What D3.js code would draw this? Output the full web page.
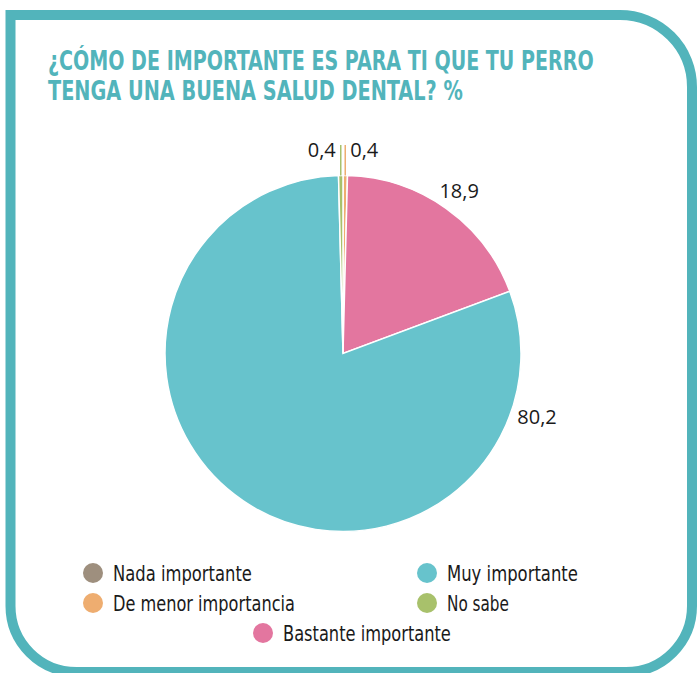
<!DOCTYPE html>
<html>
<head>
<meta charset="utf-8">
<script src="https://cdn.jsdelivr.net/npm/d3@7"></script>
<style>
  body { margin: 0; background: #fff; }
  svg { display: block; }
</style>
</head>
<body>
<div id="chart"></div>
<script>
// data
var categories = ["Nada importante", "De menor importancia", "Bastante importante", "Muy importante", "No sabe"];
var values = [0, 0.4, 18.9, 80.2, 0.4];
var valueLabels = ["", "0,4", "18,9", "80,2", "0,4"];
var colors = ["#9e8f7e", "#eead70", "#e3769f", "#67c3cc", "#a8c16b"];
var titleLines = ["¿CÓMO DE IMPORTANTE ES PARA TI QUE TU PERRO", "TENGA UNA BUENA SALUD DENTAL? %"];

var svgWidth = 697;
var svgHeight = 673;
var teal = "#52b4bb";
var condensed = "'Liberation Sans Narrow', 'DejaVu Sans Condensed', 'Roboto', sans-serif";

var svg = d3.select("#chart")
  .append("svg")
  .attr("width", svgWidth)
  .attr("height", svgHeight);

// squeeze a text horizontally so it spans the width seen in the reference
function fitWidth(sel, x, y, widthFn) {
  sel.each(function(d, i) {
    var natural = this.getComputedTextLength();
    var k = widthFn(d, i) / natural;
    d3.select(this)
      .attr("x", 0)
      .attr("y", 0)
      .attr("transform", `translate(${x(d, i)}, ${y(d, i)}) scale(${k}, 1)`);
  });
}

// frame: square top-left, rounded on the other corners
var L = 10.5, T = 15, R = 692, B = 672;
var frame = d3.path();
frame.moveTo(L, B - 66);
frame.lineTo(L, T);
frame.lineTo(R - 72, T);
frame.arcTo(R, T, R, T + 72, 72);
frame.lineTo(R, B - 66);
frame.arcTo(R, B, R - 66, B, 66);
frame.lineTo(L + 66, B);
frame.arcTo(L, B, L, B - 66, 66);
frame.closePath();

svg.append("path")
  .attr("d", frame.toString())
  .attr("fill", "none")
  .attr("stroke", teal)
  .attr("stroke-width", 10);

// title
var titleWidths = [546, 415];
var titles = svg.selectAll(".title")
  .data(titleLines)
  .enter()
  .append("text")
  .attr("class", "title")
  .attr("font-family", condensed)
  .attr("font-weight", "bold")
  .attr("font-size", "27px")
  .attr("fill", teal)
  .text(d => d);

fitWidth(titles, () => 48, (d, i) => 70 + i * 30, (d, i) => titleWidths[i]);

// pie
var cx = 343, cy = 353.5, radius = 178;
var pieData = categories.map((c, i) => ({ name: c, value: values[i], label: valueLabels[i], color: colors[i] }));

var pie = d3.pie()
  .sort(null)
  .value(d => d.value);

var arc = d3.arc()
  .innerRadius(0)
  .outerRadius(radius);

var arcs = pie(pieData);

var pieGroup = svg.append("g")
  .attr("transform", `translate(${cx}, ${cy})`);

pieGroup.selectAll("path")
  .data(arcs.filter(d => d.data.value > 0))
  .enter()
  .append("path")
  .attr("d", arc)
  .attr("fill", d => d.data.color)
  .attr("stroke", "#fff")
  .attr("stroke-width", 1.5);

// label placement: angle offset (deg) from slice middle, radius, or a leader line for slivers
var labelStyle = {
  "De menor importancia": { leader: true, side: 1 },
  "No sabe": { leader: true, side: -1 },
  "Bastante importante": { angle: 0, r: 200 },
  "Muy importante": { fixedAngle: 108, r: 204 }
};

var labelFont = "'Open Sans', 'Noto Sans', sans-serif";

arcs.forEach(function(d) {
  var cfg = labelStyle[d.data.name];
  if (!cfg || !d.data.label) return;
  var mid = (d.startAngle + d.endAngle) / 2;
  if (cfg.leader) {
    var x0 = radius * Math.sin(mid);
    var y0 = -radius * Math.cos(mid);
    var yTop = 145 - cy;
    pieGroup.append("line")
      .attr("x1", x0).attr("y1", y0)
      .attr("x2", x0).attr("y2", yTop)
      .attr("stroke", d.data.color)
      .attr("stroke-width", 1.5);
    pieGroup.append("text")
      .attr("x", x0 + cfg.side * 5)
      .attr("y", 157 - cy)
      .attr("text-anchor", cfg.side > 0 ? "start" : "end")
      .attr("font-family", labelFont)
      .attr("font-size", "20px")
      .attr("fill", "#1a1a1a")
      .text(d.data.label);
  } else {
    var a = cfg.fixedAngle !== undefined ? cfg.fixedAngle * Math.PI / 180 : mid + cfg.angle * Math.PI / 180;
    pieGroup.append("text")
      .attr("x", cfg.r * Math.sin(a))
      .attr("y", -cfg.r * Math.cos(a))
      .attr("dy", "0.35em")
      .attr("text-anchor", "middle")
      .attr("font-family", labelFont)
      .attr("font-size", "20px")
      .attr("fill", "#1a1a1a")
      .text(d.data.label);
  }
});

// legend
var legendPos = [
  { x: 93, y: 573, w: 139 },
  { x: 93, y: 603, w: 182 },
  { x: 263, y: 633, w: 168 },
  { x: 427, y: 573, w: 131 },
  { x: 427, y: 603, w: 62 }
];

var legend = svg.selectAll(".legend")
  .data(pieData)
  .enter()
  .append("g")
  .attr("class", "legend")
  .attr("transform", (d, i) => `translate(${legendPos[i].x}, ${legendPos[i].y})`);

legend.append("circle")
  .attr("r", 10)
  .attr("fill", d => d.color);

var legendText = legend.append("text")
  .attr("font-family", condensed)
  .attr("font-size", "22px")
  .attr("fill", "#1a1a1a")
  .text(d => d.name);

fitWidth(legendText, () => 20, () => 7.5, (d, i) => legendPos[i].w);
</script>
</body>
</html>
